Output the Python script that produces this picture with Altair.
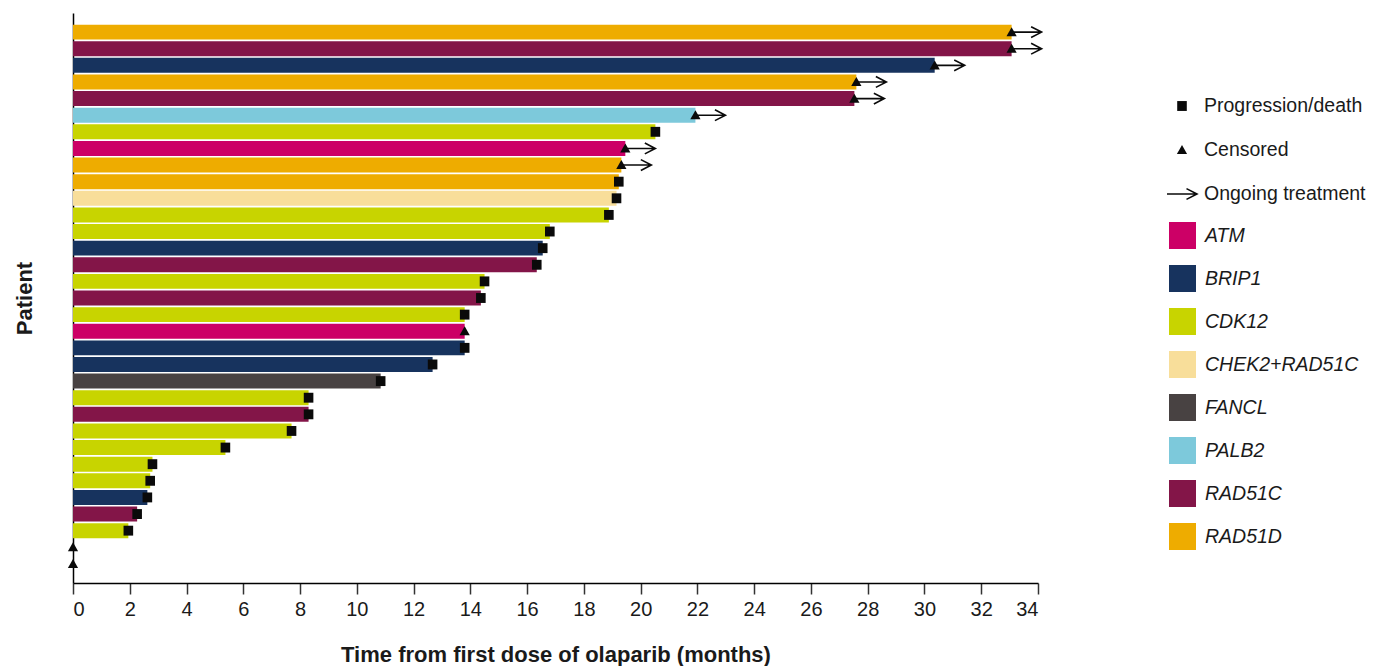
import altair as alt
import pandas as pd

# One row per patient, top to bottom
patients = list(range(1, 34))
genes = [
    "RAD51D", "RAD51C", "BRIP1", "RAD51D", "RAD51C", "PALB2", "CDK12", "ATM",
    "RAD51D", "RAD51D", "CHEK2+RAD51C", "CDK12", "CDK12", "BRIP1", "RAD51C",
    "CDK12", "RAD51C", "CDK12", "ATM", "BRIP1", "BRIP1", "FANCL", "CDK12",
    "RAD51C", "CDK12", "CDK12", "CDK12", "CDK12", "BRIP1", "RAD51C", "CDK12",
    None, None,
]
months = [
    33.07, 33.07, 30.36, 27.60, 27.53, 21.93, 20.52, 19.46,
    19.32, 19.23, 19.15, 18.88, 16.80, 16.55, 16.34,
    14.50, 14.37, 13.80, 13.80, 13.80, 12.67, 10.84, 8.30,
    8.30, 7.70, 5.37, 2.80, 2.72, 2.62, 2.26, 1.95,
    0.0, 0.0,
]
outcome = (["Censored"] * 6 + ["Progression/death"] + ["Censored"] * 2
           + ["Progression/death"] * 9 + ["Censored"] + ["Progression/death"] * 12
           + ["Censored"] * 2)
ongoing = [True] * 6 + [False] + [True] * 2 + [False] * 24

gene_order = ["ATM", "BRIP1", "CDK12", "CHEK2+RAD51C", "FANCL", "PALB2", "RAD51C", "RAD51D"]
gene_colors = ["#CC0066", "#17335E", "#C8D400", "#F8DE9A", "#484242", "#7DC9DB", "#831548", "#EEAC00"]

marker_order = ["Progression/death", "Censored", "Ongoing treatment"]
# Symbol outlines in a unit box (drawn at a common symbol size)
SQUARE = "M-0.32,-0.33L0.32,-0.33L0.32,0.33L-0.32,0.33Z"
TRIANGLE = "M0,-0.33L0.34,0.27L-0.34,0.27Z"
ARROW = "M-1,0L1,0M0.3,-0.36L1,0L0.3,0.36"
SYMBOL_SIZE = 900

df = pd.DataFrame({"patient": patients, "gene": genes, "months": months,
                   "marker": outcome, "ongoing": ongoing})
bars_df = df[df["gene"].notna()]
events_df = df[["patient", "months", "marker"]]
arrows_df = df[df["ongoing"]][["patient", "months"]].assign(marker="Ongoing treatment")

FONT = "Liberation Sans"
INK = "#1a1a1a"

y_enc = alt.Y(
    "patient:O", sort=patients,
    scale=alt.Scale(paddingInner=0.1, paddingOuter=0.7),
    axis=alt.Axis(labels=False, ticks=False, domainColor="black", domainWidth=1.5,
                  title="Patient", titleFont=FONT, titleFontSize=22, titleFontWeight="bold",
                  titleColor=INK, titleX=-42, titleBaseline="alphabetic"),
)
x_enc = alt.X(
    "months:Q",
    scale=alt.Scale(domain=[0, 34], nice=False),
    axis=alt.Axis(values=list(range(0, 35, 2)), tickSize=11, tickColor="#333333", tickWidth=1.5,
                  domainColor="black", domainWidth=1.5, grid=False,
                  labelFont=FONT, labelFontSize=20, labelColor=INK, labelPadding=5,
                  title="Time from first dose of olaparib (months)", titleFont=FONT,
                  titleFontSize=22, titleFontWeight="bold", titleColor=INK,
                  titleY=78, titleBaseline="alphabetic"),
)

marker_legend = alt.Legend(title=None, orient="none", legendX=1093, legendY=77,
                           labelFont=FONT, labelFontSize=19.5, labelColor=INK, labelLimit=400,
                           labelOffset=6, rowPadding=18, symbolSize=SYMBOL_SIZE,
                           symbolStrokeWidth=1.6)
shape_enc = alt.Shape("marker:N", scale=alt.Scale(domain=marker_order,
                      range=[SQUARE, TRIANGLE, ARROW]), legend=marker_legend)
fill_enc = alt.Fill("marker:N", scale=alt.Scale(domain=marker_order,
                    range=["#0a0a0a", "#0a0a0a", "transparent"]), legend=marker_legend)
stroke_enc = alt.Stroke("marker:N", scale=alt.Scale(domain=marker_order,
                        range=["transparent", "transparent", "#0a0a0a"]), legend=marker_legend)

bars = alt.Chart(bars_df).mark_bar().encode(
    x=x_enc,
    x2=alt.datum(0),
    y=y_enc,
    color=alt.Color("gene:N", scale=alt.Scale(domain=gene_order, range=gene_colors),
                    legend=alt.Legend(title=None, orient="none", legendX=1096, legendY=209,
                                      symbolType="square", symbolSize=729, symbolStrokeWidth=0,
                                      labelFont=FONT, labelFontSize=19.5, labelColor=INK,
                                      labelLimit=400, labelFontStyle="italic", labelOffset=9,
                                      rowPadding=16)),
)

events = alt.Chart(events_df).mark_point(
    filled=True, opacity=1, strokeWidth=1.6, size=SYMBOL_SIZE
).encode(
    x="months:Q", y=alt.Y("patient:O", sort=patients),
    shape=shape_enc, fill=fill_enc, stroke=stroke_enc,
)

arrows = alt.Chart(arrows_df).mark_point(
    filled=True, opacity=1, strokeWidth=1.6, size=SYMBOL_SIZE, xOffset=15
).encode(
    x="months:Q", y=alt.Y("patient:O", sort=patients),
    shape=shape_enc, fill=fill_enc, stroke=stroke_enc,
)

chart = alt.layer(bars, arrows, events).properties(
    width=965, height=570,
    background="white",
    autosize=alt.AutoSizeParams(type="none"),
    padding={"left": 73, "top": 13, "right": 335, "bottom": 83},
).configure_view(strokeWidth=0, stroke="transparent")

chart.save("out.html", embed_options={"renderer": "svg", "actions": False})
